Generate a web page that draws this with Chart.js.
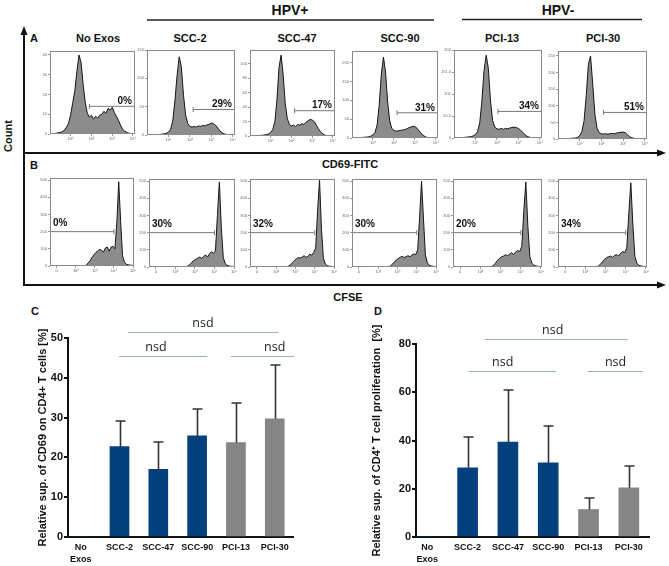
<!DOCTYPE html>
<html><head><meta charset="utf-8">
<script src="https://cdn.jsdelivr.net/npm/chart.js@4.4.1/dist/chart.umd.min.js"></script>
<style>
html,body{margin:0;padding:0;background:#fff;}
body{width:669px;height:566px;overflow:hidden;position:relative;font-family:"Liberation Sans",Arial,sans-serif;color:#111;}
.t{position:absolute;font-weight:bold;white-space:nowrap;transform:translate(-50%,-50%);line-height:1;}
.rot{transform:translate(-50%,-50%) rotate(-90deg);}
canvas{position:absolute;}
svg{position:absolute;left:0;top:0;}
</style></head><body>
<svg width="669" height="566">
  <line x1="147" y1="20" x2="434" y2="20" stroke="#222" stroke-width="1.5"/>
  <line x1="462" y1="19.5" x2="642" y2="19.5" stroke="#222" stroke-width="1.5"/>
  <line x1="24" y1="32" x2="24" y2="286" stroke="#111" stroke-width="2"/>
  <polygon points="24,26 20.5,35 27.5,35" fill="#111"/>
  <line x1="23" y1="153" x2="658" y2="153" stroke="#111" stroke-width="2"/>
  <polygon points="666,153 657,149.5 657,156.5" fill="#111"/>
  <line x1="23" y1="285" x2="658" y2="285" stroke="#111" stroke-width="2"/>
  <polygon points="666,285 657,281.5 657,288.5" fill="#111"/>
</svg>
<div class="t" style="left:290px;top:10px;font-size:14px">HPV+</div>
<div class="t" style="left:558px;top:10px;font-size:14px">HPV-</div>
<div class="t" style="left:34px;top:38px;font-size:11px">A</div>
<div class="t" style="left:34px;top:165px;font-size:11px">B</div>
<div class="t" style="left:350px;top:164px;font-size:11px">CD69-FITC</div>
<div class="t" style="left:348px;top:297px;font-size:11px">CFSE</div>
<div class="t rot" style="left:8px;top:136px;font-size:11px">Count</div>
<div class="t" style="left:35px;top:311px;font-size:11px">C</div>
<div class="t" style="left:378px;top:311px;font-size:11px">D</div>
<div id="titles"></div>
<script>
// ---------- DATA ----------
const conditions = ['No Exos', 'SCC-2', 'SCC-47', 'SCC-90', 'PCI-13', 'PCI-30'];

// Panel A: CD69-FITC histograms (x = decades of fluorescence, y = count)
const fluorX = [0,0.1,0.2,0.3,0.4,0.5,0.6,0.7,0.8,0.9,1,1.1,1.2,1.3,1.4,1.5,1.6,1.7,1.8,1.9,2,2.1,2.2,2.3,2.4,2.5,2.6,2.7,2.8,2.9,3,3.1,3.2,3.3,3.4,3.5,3.6,3.7,3.8,3.9,4,4.1];
const cd69NoExos = [0,0,0.2,0.4,0.6,0.8,1.2,2,3.5,5.5, 10,16,22,32,40,36,25,16,10.5,8.5, 9.5,7.5,9,8,9.5,10,11.5,10.5,13,12, 13.5,11,9,7,4.5,2.5,1.5,0.8,0.4,0.2, 0,0];
const cd69SCC2   = [0,0,0,0.3,0.5,0.8,1,1.5,2,3, 5,10,25,60,105,138,120,70,35,20, 15,14,15,14,16,15,17,16,18,19, 21,20,17,12,7,4,2,1,0.5,0, 0,0];
const cd69SCC47  = [0,0,0,0.3,0.5,0.8,1,1.5,2,3, 5,9,20,50,95,112,85,45,24,16, 14,15,13,16,15,17,16,19,21,23, 22,20,15,10,6,3,1.5,0.7,0.3,0, 0,0];
const cd69SCC90  = [0,0,0,0.5,1,1.5,2,2.5,3,5, 8,15,35,90,170,215,175,95,45,25, 20,18,19,20,21,22,24,27,29,31, 30,26,19,12,7,3,1.5,0.7,0.3,0, 0,0];
const cd69PCI13  = [0,0,0,0.5,1,1.5,2,2.5,3,5, 8,15,35,85,155,190,160,85,40,25, 21,20,22,20,22,21,23,24,25,24, 22,18,13,8,4,2,1,0.5,0,0, 0,0];
const cd69PCI30  = [0,0,0,0.5,1,1.5,2,2.5,3,5, 10,22,55,130,225,250,165,75,32,19, 16,15,16,14,16,17,16,18,19,20, 21,19,13,7,4,2,1,0.5,0,0, 0,0];
const cd69YMax   = [42, 150, 119, 231, 202, 265];
const cd69YStep  = [10, 50, 20, 50, 50, 50];
const cd69GateLevel = [14, 45, 35, 67, 61, 80];
const cd69GateStart = [1.9, 2.15, 2.15, 2.15, 2.05, 2.1];
const cd69Pct = ['0%', '29%', '17%', '31%', '34%', '51%'];
const cd69TickValues = [1, 2, 3, 4];
const cd69TickLabels = ['10¹', '10²', '10³', '10⁴'];

// Panel B: CFSE histograms
const cfseX = [-0.35,-0.25,-0.15,-0.05,0.05,0.15,0.25,0.35,0.45,0.55,0.65,0.75,0.85,0.95,1.05,1.15,1.25,1.35,1.45,1.55,1.65,1.75,1.85,1.95,2.05,2.15,2.25,2.35,2.45,2.55,2.65,2.75,2.85,2.95,3.05,3.15,3.25,3.35,3.45,3.55,3.65,3.75,3.85,3.95,4.05];
const cfseNoExos = [0,0,0,0,0,0,0,0,0,0,0,0,0,0,0,0,0,0, 1,5,18,30,50,65,78,88,97,92, 80,105,110,86,110,115,100,250,490,260, 60,22,10,7,5,4,3];
const cfseSCC2   = [0,0,0,0,0,0,0,0,0,0,0,0,0,0,0,0,0,0, 0,2,6,15,28,38,45,52,58,50, 62,70,58,78,88,80,95,300,495,230, 55,20,9,6,4,3,2];
const cfseSCC47  = [0,0,0,0,0,0,0,0,0,0,0,0,0,0,0,0,0,0, 0,2,5,13,26,38,48,55,52,58, 66,56,62,75,68,85,110,330,505,220, 50,18,8,5,3,2,1];
const cfseSCC90  = [0,0,0,0,0,0,0,0,0,0,0,0,0,0,0,0,0,0, 0,2,7,17,30,42,50,57,62,55, 60,66,60,70,76,72,100,290,500,280, 70,25,10,6,4,3,2];
const cfsePCI13  = [0,0,0,0,0,0,0,0,0,0,0,0,0,0,0,0,0,0, 0,3,9,22,38,50,58,64,72,66, 74,84,72,88,96,90,120,320,495,240, 60,22,10,6,4,3,2];
const cfsePCI30  = [0,0,0,0,0,0,0,0,0,0,0,0,0,0,0,0,0,0, 0,2,6,16,30,44,54,60,63,56, 68,72,64,80,90,84,110,310,490,250, 62,22,10,6,4,3,2];
const cfseYMax = 512;
const cfseYStep = 100;
const cfseGateLevel = 200;
const cfseGateEnd = 3.0;
const cfsePct = ['0%', '30%', '32%', '30%', '20%', '34%'];
const cfseTickValues = [0, 1, 2, 3, 4];
const cfseTickLabels = ['0', '10²', '10³', '10⁴', '10⁵'];

// Panels C and D: bar charts
const groups = [['No', 'Exos'], 'SCC-2', 'SCC-47', 'SCC-90', 'PCI-13', 'PCI-30'];
const hpvStatus = ['none', '+', '+', '+', '-', '-'];
const cd69SupMean = [0, 22.7, 17.0, 25.4, 23.7, 29.7];
const cd69SupSD   = [0, 6.5, 6.9, 6.7, 9.9, 13.4];
const prolifSupMean = [0, 28.7, 39.3, 30.7, 11.4, 20.4];
const prolifSupSD   = [0, 12.8, 21.7, 15.5, 4.8, 9.1];
const cd69Comparisons = [
  {from: 1.22, to: 5.09, at: 51.6, textAt: 3.15, label: 'nsd'},
  {from: 0.99, to: 3.26, at: 45.6, textAt: 1.94, label: 'nsd'},
  {from: 3.87, to: 5.5, at: 45.6, textAt: 5.0, label: 'nsd'}
];
const prolifComparisons = [
  {from: 1.43, to: 4.97, at: 82.1, textAt: 3.11, label: 'nsd'},
  {from: 1.03, to: 3.19, at: 68.9, textAt: 1.87, label: 'nsd'},
  {from: 3.98, to: 5.34, at: 68.9, textAt: 4.67, label: 'nsd'}
];

// ---------- LAYOUT ----------
Chart.defaults.font.family = '"Liberation Sans", Arial, sans-serif';
const FONT = '"Liberation Sans", Arial, sans-serif';
const boxesA = [[50,50,135,134],[147,49,235,135],[250,49,335,136],[352,50,438,138],[454,49,542,138],[558,50,647,139]];
const boxesB = [[50,177,134,266],[149,178,235,267],[250,178,335,267],[352,178,437,267],[453,178,542,267],[558,178,647,267]];
const titleX = [98, 190, 297, 400, 502, 603];

const titles = document.getElementById('titles');
conditions.forEach((c, i) => {
  const d = document.createElement('div');
  d.className = 't';
  d.style.cssText = `left:${titleX[i]}px;top:38px;font-size:11px`;
  d.textContent = c;
  titles.appendChild(d);
});

function makeCanvas(left, top, w, h) {
  const cv = document.createElement('canvas');
  cv.width = w; cv.height = h;
  cv.style.left = left + 'px'; cv.style.top = top + 'px';
  cv.style.width = w + 'px'; cv.style.height = h + 'px';
  document.body.appendChild(cv);
  return cv;
}

const boxPlugin = {
  id: 'box',
  afterDatasetsDraw(chart) {
    const a = chart.chartArea, ctx = chart.ctx;
    ctx.save();
    ctx.strokeStyle = '#8a8a8a'; ctx.lineWidth = 1;
    ctx.strokeRect(Math.round(a.left) + 0.5, Math.round(a.top) + 0.5, Math.round(a.width) - 1, Math.round(a.height) - 1);
    ctx.restore();
  }
};

function histogram(box, xs, ys, o) {
  const [L, T, R, B] = box;
  const pl = 14, pt = 4, pr = 6, pb = 9;
  const cv = makeCanvas(L - pl, T - pt, R - L + pl + pr, B - T + pt + pb);
  const pctPlugin = {
    id: 'pct',
    afterDatasetsDraw(chart) {
      const {ctx, chartArea, scales} = chart;
      const y = scales.y.getPixelForValue(o.gy);
      ctx.save();
      ctx.font = 'bold 10px ' + FONT;
      ctx.fillStyle = '#111';
      ctx.textBaseline = 'bottom';
      if (o.align === 'right') { ctx.textAlign = 'right'; ctx.fillText(o.pct, chartArea.right - 3, y); }
      else { ctx.textAlign = 'left'; ctx.fillText(o.pct, chartArea.left + 3, y - 3); }
      ctx.restore();
    }
  };
  new Chart(cv, {
    type: 'scatter',
    data: {datasets: [
      {data: xs.map((x, i) => ({x, y: ys[i]})), showLine: true, fill: 'origin', backgroundColor: '#8c8c8c',
       borderColor: '#151515', borderWidth: 1, pointRadius: 0, tension: 0},
      {data: [{x: o.g0, y: o.gy}, {x: o.g1, y: o.gy}], showLine: true, borderColor: '#7a7a7a', borderWidth: 1,
       pointStyle: 'line', rotation: 90, pointRadius: o.gateTick, pointBorderColor: '#7a7a7a', pointBorderWidth: 1, clip: false}
    ]},
    options: {
      responsive: false, animation: false, events: [], devicePixelRatio: 1,
      layout: {padding: {left: 0, top: pt, right: pr, bottom: 0}},
      plugins: {legend: {display: false}, tooltip: {enabled: false}},
      scales: {
        x: {type: 'linear', min: o.xmin, max: o.xmax,
            afterFit: s => { s.height = pb; },
            afterBuildTicks: s => { s.ticks = o.tickValues.map(v => ({value: v})); },
            ticks: {font: {size: 4}, color: '#666', padding: 0, maxRotation: 0, autoSkip: false,
                    callback: (v, i) => o.tickLabels[i]},
            grid: {drawOnChartArea: false, tickLength: 2, color: '#999'}, border: {display: false}},
        y: {type: 'linear', min: 0, max: o.ymax,
            afterFit: s => { s.width = pl; },
            ticks: {stepSize: o.ystep, includeBounds: false, font: {size: 4}, color: '#666', padding: 1},
            grid: {drawOnChartArea: false, tickLength: 2, color: '#999'}, border: {display: false}}
      }
    },
    plugins: [boxPlugin, pctPlugin]
  });
}

const cd69Sets = [cd69NoExos, cd69SCC2, cd69SCC47, cd69SCC90, cd69PCI13, cd69PCI30];
const cfseSets = [cfseNoExos, cfseSCC2, cfseSCC47, cfseSCC90, cfsePCI13, cfsePCI30];

cd69Sets.forEach((ys, i) => histogram(boxesA[i], fluorX, ys, {
  xmin: 0, xmax: 4.1, ymax: cd69YMax[i], ystep: cd69YStep[i],
  tickValues: cd69TickValues, tickLabels: cd69TickLabels,
  g0: cd69GateStart[i], g1: 4.1, gy: cd69GateLevel[i], gateTick: [2.5, 0],
  pct: cd69Pct[i], align: 'right'
}));
cfseSets.forEach((ys, i) => histogram(boxesB[i], cfseX, ys, {
  xmin: -0.35, xmax: 4.05, ymax: cfseYMax, ystep: cfseYStep,
  tickValues: cfseTickValues, tickLabels: cfseTickLabels,
  g0: -0.35, g1: cfseGateEnd, gy: cfseGateLevel, gateTick: [0, 2.5],
  pct: cfsePct[i], align: 'left'
}));

function barChart(pos, area, mean, sd, comps, o) {
  const [cl, ct, W, H] = pos;
  const cv = makeCanvas(cl, ct, W, H);
  const colors = hpvStatus.map(s => s === '-' ? '#858585' : '#023f7e');
  const errPlugin = {
    id: 'err',
    afterDatasetsDraw(chart) {
      const {ctx, scales: {x, y}} = chart;
      ctx.save();
      ctx.strokeStyle = '#333'; ctx.lineWidth = 1.6;
      mean.forEach((m, i) => {
        if (!sd[i]) return;
        const px = Math.round(x.getPixelForValue(i)) + 0.5;
        const y0 = y.getPixelForValue(m), y1 = Math.round(y.getPixelForValue(m + sd[i]));
        ctx.beginPath();
        ctx.moveTo(px, y0); ctx.lineTo(px, y1);
        ctx.moveTo(px - 5, y1); ctx.lineTo(px + 5, y1);
        ctx.stroke();
      });
      ctx.restore();
    }
  };
  const nsdPlugin = {
    id: 'nsd',
    afterDatasetsDraw(chart) {
      const {ctx, scales: {x, y}} = chart;
      ctx.save();
      comps.forEach(c => {
        const yy = Math.round(y.getPixelForValue(c.at)) + 0.5;
        ctx.strokeStyle = '#8fafd4'; ctx.lineWidth = 1;
        ctx.beginPath();
        ctx.moveTo(x.getPixelForValue(c.from), yy); ctx.lineTo(x.getPixelForValue(c.to), yy);
        ctx.stroke();
        ctx.fillStyle = '#222';
        ctx.font = '12.5px "Open Sans", sans-serif';
        ctx.textAlign = 'center'; ctx.textBaseline = 'middle';
        ctx.fillText(c.label, x.getPixelForValue(c.textAt), yy - 9);
      });
      ctx.restore();
    }
  };
  new Chart(cv, {
    type: 'bar',
    data: {datasets: [{data: mean.map((v, i) => ({x: i, y: v})), backgroundColor: colors, barThickness: o.barW, borderWidth: 0}]},
    options: {
      responsive: false, animation: false, events: [], devicePixelRatio: 1,
      layout: {padding: {left: 0, top: area[1], right: W - area[2], bottom: 0}},
      plugins: {legend: {display: false}, tooltip: {enabled: false}},
      scales: {
        x: {type: 'linear', offset: false, min: o.xmin, max: o.xmax,
            afterFit: s => { s.height = H - area[3]; },
            afterBuildTicks: s => { s.ticks = groups.map((g, i) => ({value: i})); },
            ticks: {callback: (v, i) => groups[i], font: {size: 9, weight: 'bold', lineHeight: 1.3}, color: '#111', padding: 5, maxRotation: 0, autoSkip: false},
            grid: {display: false, drawTicks: false, tickLength: 0, offset: false}, border: {display: true, color: '#111', width: 2}},
        y: {type: 'linear', min: 0, max: o.ymax,
            afterFit: s => { s.width = area[0]; },
            ticks: {stepSize: o.ystep, font: {size: 11, weight: 'bold'}, color: '#111', padding: 1},
            grid: {drawOnChartArea: false, tickLength: 4, color: '#111', lineWidth: 2},
            border: {display: true, color: '#111', width: 2},
            title: {display: true, text: o.title, font: {size: 11, weight: 'bold'}, color: '#111', padding: {top: o.titlePad, bottom: 0}}}
      }
    },
    plugins: [errPlugin, nsdPlugin]
  });
}

barChart([0, 310, 334, 256], [68, 28, 293, 227], cd69SupMean, cd69SupSD, cd69Comparisons,
  {xmin: -0.327, xmax: 5.47, ymax: 50, ystep: 10, barW: 19, titlePad: 36,
   title: 'Relative sup. of CD69 on CD4+ T cells [%]'});
barChart([335, 310, 334, 256], [81, 34, 314, 227], prolifSupMean, prolifSupSD, prolifComparisons,
  {xmin: -0.28, xmax: 5.5, ymax: 80, ystep: 20, barW: 20, titlePad: 35,
   title: 'Relative sup. of CD4⁺ T cell proliferation  [%]'});
</script>
</body></html>
